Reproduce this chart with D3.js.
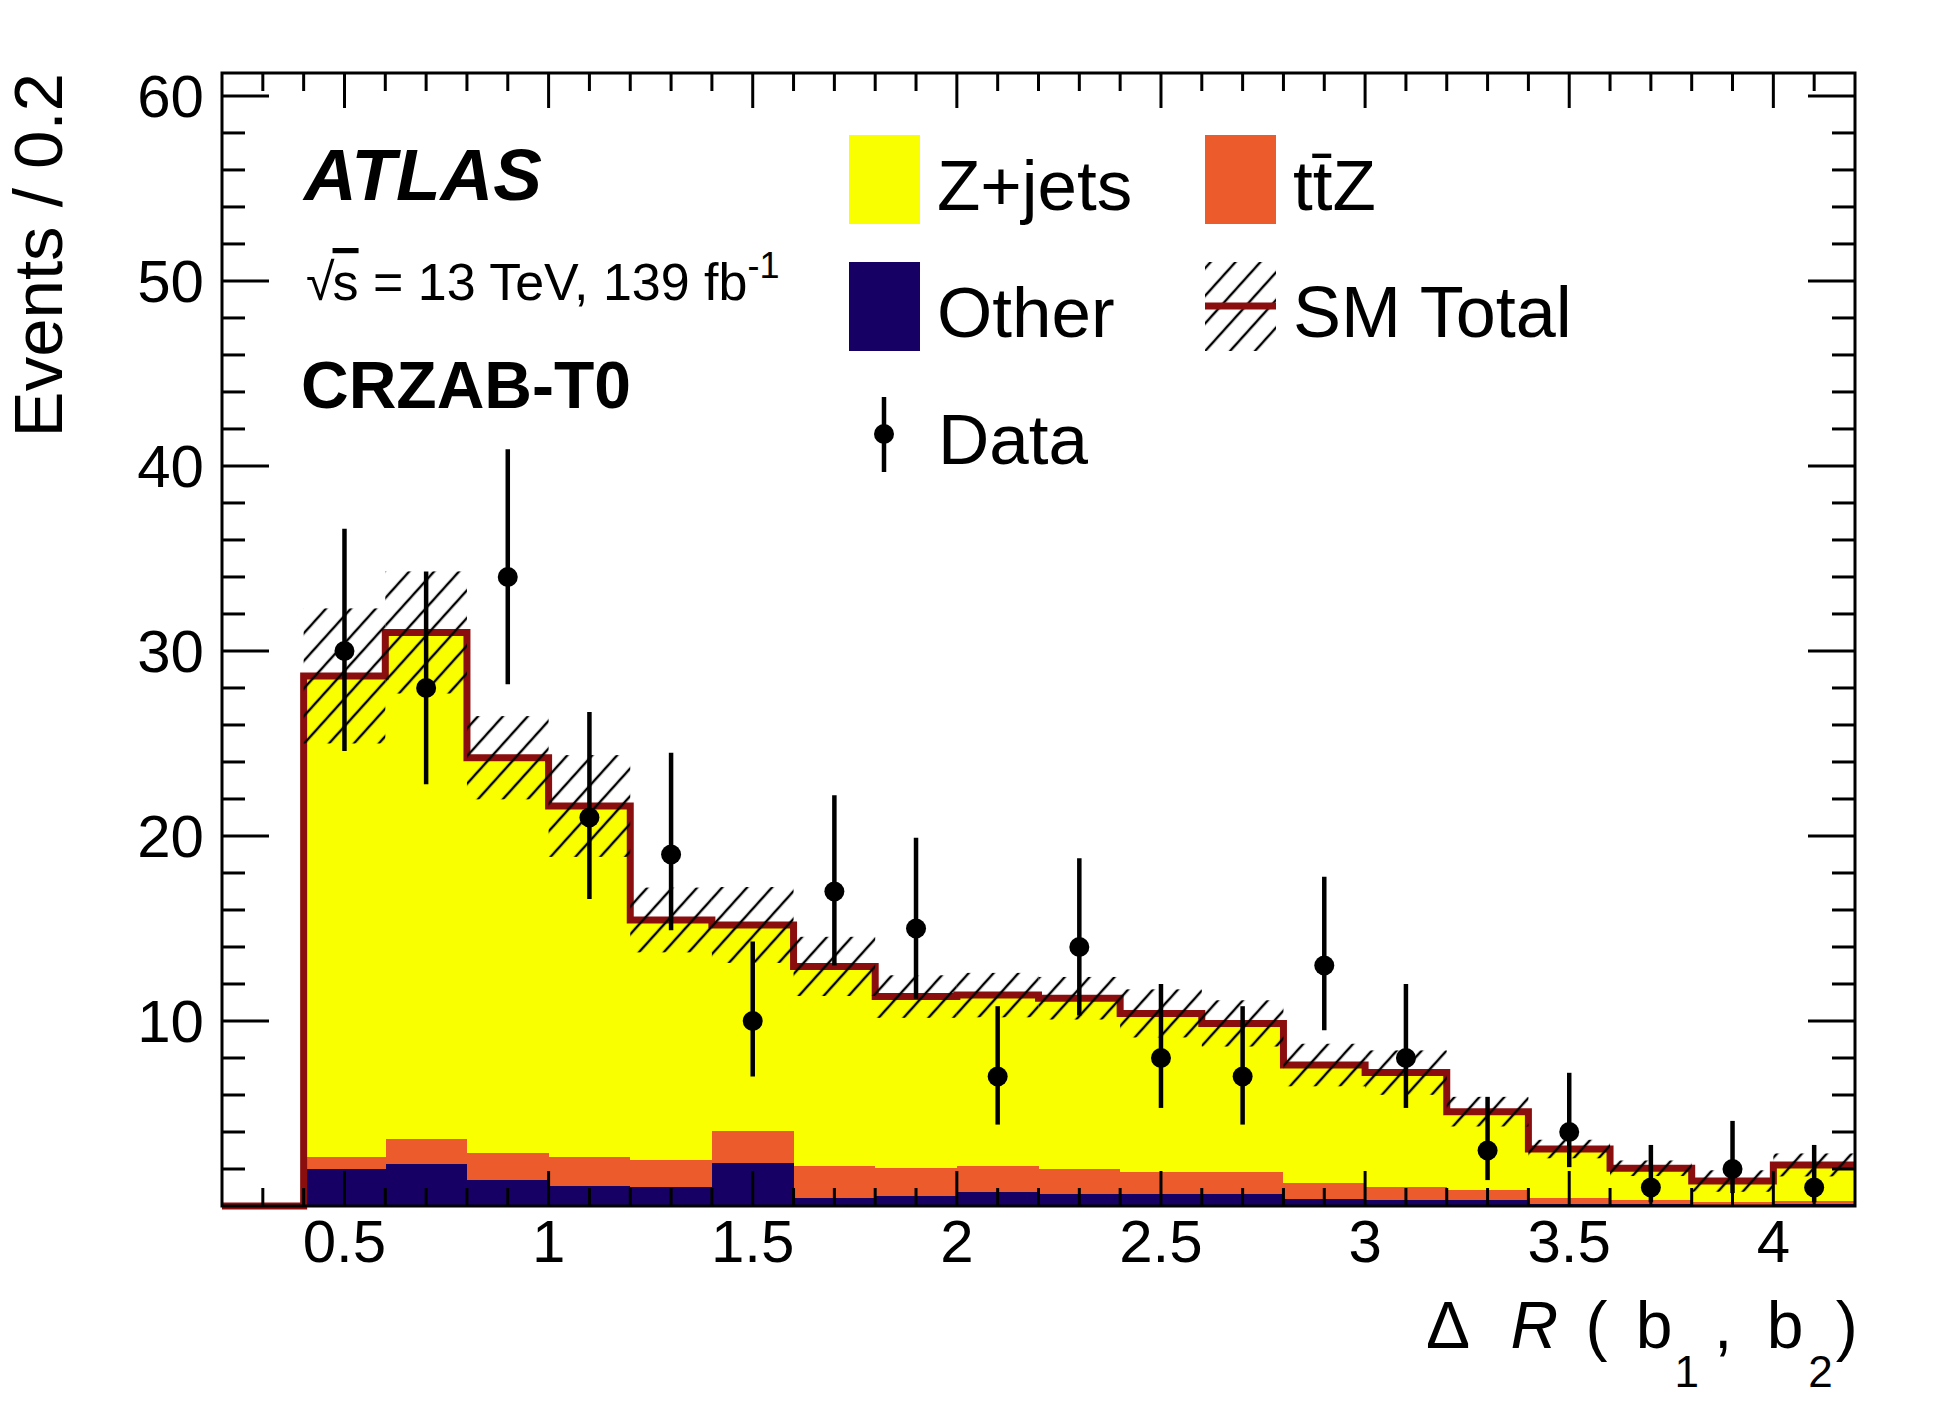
<!DOCTYPE html>
<html>
<head>
<meta charset="utf-8">
<script src="https://cdn.jsdelivr.net/npm/d3@7"></script>
<style>
  html, body { margin: 0; padding: 0; background: #fff; }
  svg { display: block; font-family: "Liberation Sans", Arial, Helvetica, sans-serif; }
</style>
</head>
<body>
<svg id="chart" width="1960" height="1423"></svg>
<script>
// ---------------- data ----------------
const binWidth = 0.2;
const binLow = [0.4,0.6,0.8,1.0,1.2,1.4,1.6,1.8,2.0,2.2,2.4,2.6,2.8,3.0,3.2,3.4,3.6,3.8,4.0];
const other  = [1.98,2.25,1.40,1.08,1.00,2.32,0.43,0.56,0.76,0.65,0.65,0.65,0.38,0.34,0.32,0.10,0.09,0.07,0.09];
const ttZ    = [0.69,1.35,1.45,1.59,1.49,1.72,1.71,1.48,1.38,1.35,1.19,1.19,0.84,0.70,0.54,0.31,0.23,0.16,0.20];
const zjets  = [25.98,27.40,21.38,18.95,12.97,11.15,10.81,9.28,9.26,9.23,8.57,8.03,6.40,6.17,4.24,2.67,1.72,1.12,1.93];
const smUnc  = [3.65,3.30,2.25,2.75,1.75,2.05,1.60,1.15,1.20,1.15,1.30,1.25,1.15,1.20,0.80,0.50,0.42,0.58,0.62];
const dataVal  = [30,28,34,21,19,10,17,15,7,14,8,7,13,8,3,4,1,2,1];
const dataLow  = [24.6,22.8,28.2,16.6,14.9,7.0,13.0,11.2,4.4,10.3,5.3,4.4,9.5,5.3,1.4,2.1,0.2,0.7,0.2];
const dataHigh = [36.6,34.3,40.9,26.7,24.5,14.3,22.2,19.9,10.8,18.8,12.0,10.8,17.8,12.0,5.9,7.2,3.3,4.6,3.3];
const xTickMajor = [0.5,1,1.5,2,2.5,3,3.5,4];
const xTickLabels = ["0.5","1","1.5","2","2.5","3","3.5","4"];
const yTickMajor = [10,20,30,40,50,60];
const yTickLabels = ["10","20","30","40","50","60"];
const xDomain = [0.2, 4.2];
const yDomain = [0, 61.24];

// ---------------- layout ----------------
const L = 222, R = 1855, T = 73, B = 1206;
const colors = { zjets: "#faff00", ttZ: "#ec5b2b", other: "#170063", sm: "#8a0e0e" };

const svg = d3.select("#chart");
const x = d3.scaleLinear().domain(xDomain).range([L, R]);
const y = d3.scaleLinear().domain(yDomain).range([B, T]);

// hatch pattern
const defs = svg.append("defs");
const pat = defs.append("pattern")
  .attr("id", "hatch").attr("patternUnits", "userSpaceOnUse")
  .attr("width", 18.5).attr("height", 40)
  .attr("patternTransform", "rotate(42)");
pat.append("line").attr("x1", 2).attr("y1", -5).attr("x2", 2).attr("y2", 45)
  .attr("stroke", "#000").attr("stroke-width", 2.4);

// stacked bins
const rows = binLow.map((lo, i) => ({ lo, other: other[i], ttZ: ttZ[i], zjets: zjets[i] }));
const stack = d3.stack().keys(["other", "ttZ", "zjets"])(rows);
const gStack = svg.append("g");
stack.forEach(layer => {
  gStack.append("g").attr("fill", colors[layer.key]).attr("shape-rendering", "crispEdges")
    .selectAll("rect").data(layer).join("rect")
    .attr("x", d => x(d.data.lo))
    .attr("width", d => x(d.data.lo + binWidth) - x(d.data.lo) + 0.5)
    .attr("y", d => y(d[1]))
    .attr("height", d => y(d[0]) - y(d[1]));
});

// SM total
const total = rows.map(r => r.other + r.ttZ + r.zjets);

// SM total step line
const linePts = [{ x: xDomain[0], v: 0 }]
  .concat(binLow.map((lo, i) => ({ x: lo, v: total[i] })))
  .concat([{ x: binLow[binLow.length - 1] + binWidth, v: total[total.length - 1] }]);
svg.append("path")
  .attr("d", d3.line().x(d => x(d.x)).y(d => y(d.v)).curve(d3.curveStepAfter)(linePts))
  .attr("fill", "none").attr("stroke", colors.sm).attr("stroke-width", 7)
  .attr("stroke-linejoin", "miter").attr("stroke-linecap", "butt");

// uncertainty hatch band
svg.append("g").selectAll("rect").data(binLow).join("rect")
  .attr("x", (lo) => x(lo))
  .attr("width", (lo) => x(lo + binWidth) - x(lo))
  .attr("y", (lo, i) => y(total[i] + smUnc[i]))
  .attr("height", (lo, i) => y(total[i] - smUnc[i]) - y(total[i] + smUnc[i]))
  .attr("fill", "url(#hatch)");

// data points
const gData = svg.append("g");
gData.selectAll("line").data(binLow).join("line")
  .attr("x1", lo => x(lo + binWidth / 2)).attr("x2", lo => x(lo + binWidth / 2))
  .attr("y1", (lo, i) => y(dataLow[i])).attr("y2", (lo, i) => y(dataHigh[i]))
  .attr("stroke", "#000").attr("stroke-width", 4.5);
gData.selectAll("circle").data(binLow).join("circle")
  .attr("cx", lo => x(lo + binWidth / 2)).attr("cy", (lo, i) => y(dataVal[i]))
  .attr("r", 10).attr("fill", "#000");

// ---------------- axes ----------------
const xMinor = d3.range(2, 43).map(k => k / 10).filter(v => v > xDomain[0] && v < xDomain[1]);
const yMinor = d3.range(2, 62, 2).filter(v => v < yDomain[1]);

const gAx = svg.append("g").attr("stroke", "#000").attr("stroke-width", 3);
// bottom & top x ticks
xMinor.forEach(v => {
  const isMaj = xTickMajor.some(m => Math.abs(m - v) < 1e-6);
  const len = isMaj ? 35 : 18;
  gAx.append("line").attr("x1", x(v)).attr("x2", x(v)).attr("y1", B).attr("y2", B - len);
  gAx.append("line").attr("x1", x(v)).attr("x2", x(v)).attr("y1", T).attr("y2", T + len);
});
// left & right y ticks
yMinor.forEach(v => {
  const isMaj = yTickMajor.includes(v);
  const len = isMaj ? 47 : 23;
  gAx.append("line").attr("x1", L).attr("x2", L + len).attr("y1", y(v)).attr("y2", y(v));
  gAx.append("line").attr("x1", R).attr("x2", R - len).attr("y1", y(v)).attr("y2", y(v));
});
// frame
gAx.append("rect").attr("x", L).attr("y", T).attr("width", R - L).attr("height", B - T)
  .attr("fill", "none").attr("stroke-linejoin", "miter");

// tick labels
svg.append("g").selectAll("text").data(xTickMajor).join("text")
  .attr("x", d => x(d)).attr("y", 1262).attr("text-anchor", "middle")
  .attr("font-size", 60).text((d, i) => xTickLabels[i]);
svg.append("g").selectAll("text").data(yTickMajor).join("text")
  .attr("x", 204).attr("y", d => y(d) + 21.5).attr("text-anchor", "end")
  .attr("font-size", 60).text((d, i) => yTickLabels[i]);

// axis titles
svg.append("text").attr("transform", `translate(62,${T}) rotate(-90)`)
  .attr("text-anchor", "end").attr("font-size", 69).text("Events / 0.2");

const xt = svg.append("text").attr("x", 1426).attr("y", 1348).attr("font-size", 66);
xt.append("tspan").text("Δ");
xt.append("tspan").attr("dx", 22).attr("font-style", "italic").text(" R");
xt.append("tspan").attr("dx", 9).text(" (");
xt.append("tspan").attr("dx", 10).text(" b");
xt.append("tspan").attr("dx", 2).attr("dy", 39).attr("font-size", 44).text("1");
xt.append("tspan").attr("dx", 15).attr("dy", -39).text(",");
xt.append("tspan").attr("dx", 16).text(" b");
xt.append("tspan").attr("dx", 5).attr("dy", 39).attr("font-size", 44).text("2");
xt.append("tspan").attr("dx", 3).attr("dy", -39).text(")");

// ATLAS labels
svg.append("text").attr("x", 304).attr("y", 200).attr("font-size", 73)
  .attr("font-weight", "bold").attr("font-style", "italic").text("ATLAS");
const lum = svg.append("text").attr("x", 306).attr("y", 300).attr("font-size", 52);
lum.append("tspan").text("√");
lum.append("tspan").attr("text-decoration", "overline").attr("dx", -2).text("s");
lum.append("tspan").text(" = 13 TeV, 139 fb");
lum.append("tspan").attr("font-size", 36).attr("dy", -22).text("-1");
svg.append("text").attr("x", 301).attr("y", 408).attr("font-size", 66)
  .attr("font-weight", "bold").text("CRZAB-T0");

// ---------------- legend ----------------
const leg = svg.append("g");
const legItems = [
  { key: "zjets", label: "Z+jets", bx: 849, by: 135 },
  { key: "ttZ", label: "tt\u0304Z", bx: 1205, by: 135 },
  { key: "other", label: "Other", bx: 849, by: 262 },
];
legItems.forEach(it => {
  leg.append("rect").attr("x", it.bx).attr("y", it.by).attr("width", 71).attr("height", 89)
    .attr("fill", colors[it.key]);
  leg.append("text").attr("x", it.bx + 88).attr("y", it.by + 75).attr("font-size", 71).text(it.label);
});
// SM total entry
leg.append("rect").attr("x", 1205).attr("y", 262).attr("width", 71).attr("height", 89)
  .attr("fill", "url(#hatch)");
leg.append("line").attr("x1", 1205).attr("x2", 1276).attr("y1", 306).attr("y2", 306)
  .attr("stroke", colors.sm).attr("stroke-width", 7);
leg.append("text").attr("x", 1293).attr("y", 337).attr("font-size", 72).text("SM Total");
// Data entry
leg.append("line").attr("x1", 884).attr("x2", 884).attr("y1", 397).attr("y2", 472)
  .attr("stroke", "#000").attr("stroke-width", 4.5);
leg.append("circle").attr("cx", 884).attr("cy", 434).attr("r", 10).attr("fill", "#000");
leg.append("text").attr("x", 938).attr("y", 464).attr("font-size", 71).text("Data");
</script>
</body>
</html>
